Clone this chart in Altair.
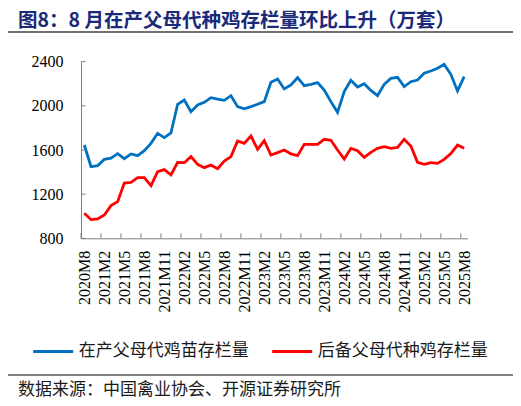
import altair as alt
import pandas as pd

# ---- data ----
title_text = "图8：8 月在产父母代种鸡存栏量环比上升（万套）"
source_text = "数据来源：中国禽业协会、开源证券研究所"
series_names = ["在产父母代鸡苗存栏量", "后备父母代种鸡存栏量"]
series_colors = ["#0070C0", "#FF0000"]

categories = ["2020M8", "2020M10", "2020M12"] + [
    f"{y}M{m}" for y in range(2021, 2026) for m in range(1, 13)
    if not (y == 2021 and m < 2) and not (y == 2025 and m > 8)
]
tick_labels = categories[::3]

blue_values = [1645, 1449, 1458, 1515, 1527, 1567, 1521, 1564, 1549, 1594,
               1660, 1751, 1712, 1754, 2014, 2053, 1947, 2008, 2032, 2074,
               2062, 2050, 2092, 1993, 1974, 1993, 2014, 2038, 2213, 2243,
               2153, 2189, 2255, 2183, 2195, 2210, 2144, 2038, 1941, 2129,
               2231, 2171, 2201, 2140, 2092, 2195, 2249, 2258, 2174, 2219,
               2234, 2295, 2316, 2340, 2376, 2286, 2135, 2264]
red_values = [1026, 969, 975, 1011, 1096, 1132, 1301, 1307, 1349, 1349,
              1277, 1404, 1422, 1374, 1488, 1485, 1540, 1470, 1440, 1464,
              1431, 1500, 1540, 1682, 1660, 1727, 1606, 1685, 1555, 1576,
              1600, 1564, 1549, 1651, 1651, 1651, 1697, 1688, 1600, 1518,
              1615, 1594, 1533, 1579, 1615, 1630, 1615, 1624, 1697, 1636,
              1488, 1470, 1485, 1479, 1515, 1567, 1645, 1615]
y_ticks = [800, 1200, 1600, 2000, 2400]

df = pd.DataFrame({
    "cat": categories * 2,
    "value": blue_values + red_values,
    "series": [series_names[0]] * len(categories) + [series_names[1]] * len(categories),
})

W, H = 386.5, 176.6
step = W / len(categories)
AXIS_GRAY = "#7f7f7f"

xscale = alt.Scale(type="point", padding=0.5, domain=categories)
yscale = alt.Scale(domain=[800, 2400], nice=False, zero=False)

lines = alt.Chart(df).mark_line(strokeWidth=2.8).encode(
    x=alt.X("cat:N", scale=xscale, sort=categories, title=None,
            axis=alt.Axis(values=tick_labels, labelAngle=270, labelAlign="right",
                          labelBaseline="middle", ticks=False, labelPadding=12,
                          labelFont="Liberation Serif", labelFontSize=16,
                          labelColor="#000000", domainColor=AXIS_GRAY,
                          labelOverlap=False, grid=False)),
    y=alt.Y("value:Q", scale=yscale, title=None,
            axis=alt.Axis(values=y_ticks, format="d", ticks=False, labelPadding=18,
                          labelFont="Liberation Serif", labelFontSize=16,
                          labelColor="#000000", domainColor=AXIS_GRAY, grid=False)),
    color=alt.Color("series:N", sort=series_names,
                    scale=alt.Scale(domain=series_names, range=series_colors),
                    legend=alt.Legend(orient="none", legendX=-49.3, legendY=268,
                                      direction="horizontal", title=None,
                                      symbolType="stroke", symbolSize=1600,
                                      symbolStrokeWidth=3,
                                      labelFont="Noto Sans CJK SC", labelFontSize=17,
                                      labelColor="#1a1a1a", labelOffset=4,
                                      columnPadding=17, labelLimit=300)),
)

xticks = alt.Chart(pd.DataFrame({"cat": tick_labels})).mark_rule(
    color=AXIS_GRAY, strokeWidth=1, xOffset=-step / 2
).encode(
    x=alt.X("cat:N", scale=xscale, sort=categories),
    y=alt.value(H), y2=alt.value(H - 5),
)

yticks = alt.Chart(pd.DataFrame({"v": y_ticks})).mark_rule(
    color=AXIS_GRAY, strokeWidth=1
).encode(
    y=alt.Y("v:Q", scale=yscale),
    x=alt.value(0), x2=alt.value(4.5),
)

title = alt.Chart(pd.DataFrame({"t": [title_text]})).mark_text(
    align="left", baseline="middle", font="Noto Sans CJK SC", fontSize=19.5,
    fontWeight="bold", color="#1a2a78"
).encode(text="t:N", x=alt.value(-63), y=alt.value(-41.2))

title_line = alt.Chart(pd.DataFrame({"a": [0]})).mark_rule(
    color="#404040", strokeWidth=1.3
).encode(x=alt.value(-75), x2=alt.value(434), y=alt.value(-29.7))

source_line = alt.Chart(pd.DataFrame({"a": [0]})).mark_rule(
    color="#595959", strokeWidth=1.3
).encode(x=alt.value(-75), x2=alt.value(434), y=alt.value(313.3))

source = alt.Chart(pd.DataFrame({"t": [source_text]})).mark_text(
    align="left", baseline="middle", font="Noto Sans CJK SC", fontSize=17,
    color="#1a1a1a"
).encode(text="t:N", x=alt.value(-63), y=alt.value(328))

chart = alt.layer(lines, xticks, yticks, title, title_line, source_line, source).properties(
    width=W, height=H, autosize="none",
    padding={"left": 73, "top": 53.7, "right": 45.5, "bottom": 159.7},
).configure_view(stroke=None)

chart.save("out.html", embed_options={"renderer": "svg", "actions": False})
